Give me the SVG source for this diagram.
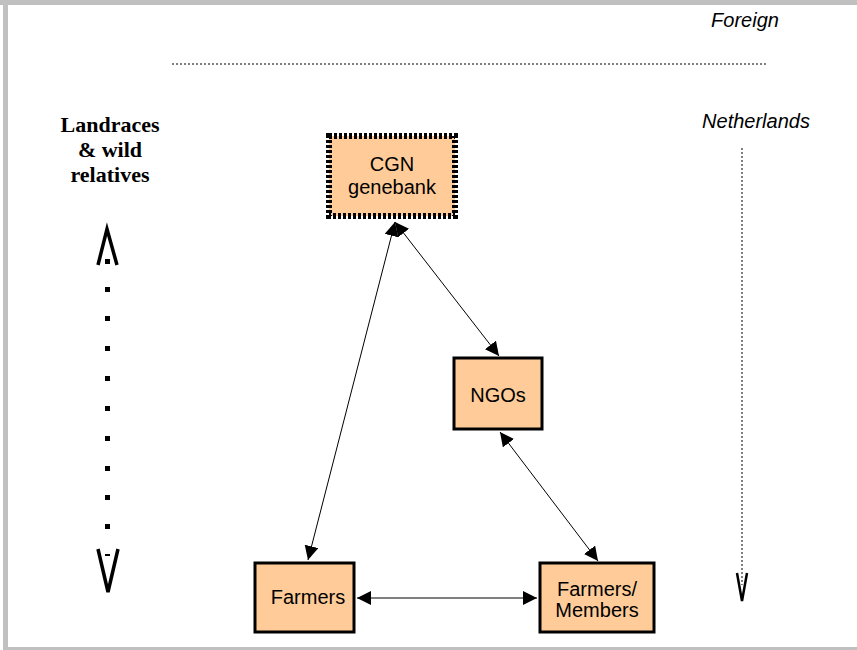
<svg xmlns="http://www.w3.org/2000/svg" width="857" height="650" viewBox="0 0 857 650">
<defs>
<style>
.box{fill:#ffcc99;stroke:#000;stroke-width:3}
.lbl{font-family:"Liberation Sans",Arial,sans-serif;font-size:20px;fill:#000;text-anchor:middle}
.it{font-family:"Liberation Sans",Arial,sans-serif;font-size:20px;font-style:italic;fill:#000;text-anchor:middle}
.bt{font-family:"Liberation Serif","Times New Roman",serif;font-size:22px;font-weight:bold;fill:#000;text-anchor:middle}
.conn{stroke:#000;stroke-width:1;fill:none;marker-start:url(#ah);marker-end:url(#ah)}
.sq{fill:#000}
</style>
<marker id="ah" viewBox="0 0 10 10" refX="10" refY="5" markerWidth="14" markerHeight="14" markerUnits="userSpaceOnUse" orient="auto-start-reverse">
<path d="M0,0 L10,5 L0,10 z" fill="#000"/>
</marker>
</defs>
<rect x="0" y="0" width="857" height="650" fill="#fff"/>
<g id="frame" fill="#c0c0c0">
<rect x="0" y="0" width="857" height="5"/>
<rect x="3" y="0" width="5" height="650"/>
<rect x="3" y="647" width="854" height="3"/>
</g>
<g id="regions">
<line x1="172" y1="64" x2="767" y2="64" stroke="#000" stroke-width="1" stroke-dasharray="2 2"/>
<text class="it" x="745" y="27">Foreign</text>
<text class="it" x="756" y="128">Netherlands</text>
<line x1="742" y1="148" x2="742" y2="585" stroke="#000" stroke-width="1" stroke-dasharray="2 2"/>
<path d="M737,573 L742,601 L747,573" fill="none" stroke="#000" stroke-width="2.5"/>
</g>
<g id="landraces">
<text class="bt" x="110" y="132">Landraces</text>
<text class="bt" x="110" y="157">&amp; wild</text>
<text class="bt" x="110" y="182">relatives</text>
<path d="M98,265 L107,229 L117,265" fill="none" stroke="#000" stroke-width="3.5"/>
<g class="sq">
<rect x="105" y="259" width="5" height="5"/>
<rect x="105" y="287" width="5" height="5"/>
<rect x="105" y="316" width="5" height="5"/>
<rect x="105" y="346" width="5" height="5"/>
<rect x="105" y="376" width="5" height="5"/>
<rect x="105" y="406" width="5" height="5"/>
<rect x="105" y="436" width="5" height="5"/>
<rect x="105" y="466" width="5" height="5"/>
<rect x="105" y="495" width="5" height="5"/>
<rect x="105" y="524" width="5" height="5"/>
<rect x="105" y="554" width="5" height="2"/>
</g>
<path d="M98,549 L108,592 L118,549" fill="none" stroke="#000" stroke-width="3.5"/>
</g>
<g id="connectors">
<line class="conn" x1="395" y1="222" x2="308" y2="560"/>
<line class="conn" x1="395" y1="222" x2="499" y2="356"/>
<line class="conn" x1="500" y1="432" x2="598" y2="561"/>
<line class="conn" x1="357" y1="598" x2="537" y2="598"/>
</g>
<g id="cgn">
<rect x="329" y="136" width="126" height="80" fill="#ffcc99" stroke="#000" stroke-width="6" stroke-dasharray="3 2"/>
<text class="lbl" x="392" y="171">CGN</text>
<text class="lbl" x="392" y="194">genebank</text>
</g>
<g id="ngos">
<rect class="box" x="454" y="358" width="88" height="71"/>
<text class="lbl" x="498" y="402">NGOs</text>
</g>
<g id="farmers">
<rect class="box" x="255" y="563" width="99" height="69"/>
<text class="lbl" x="308" y="604">Farmers</text>
</g>
<g id="members">
<rect class="box" x="540" y="563" width="114" height="69"/>
<text class="lbl" x="597" y="596">Farmers/</text>
<text class="lbl" x="597" y="617">Members</text>
</g>
</svg>
